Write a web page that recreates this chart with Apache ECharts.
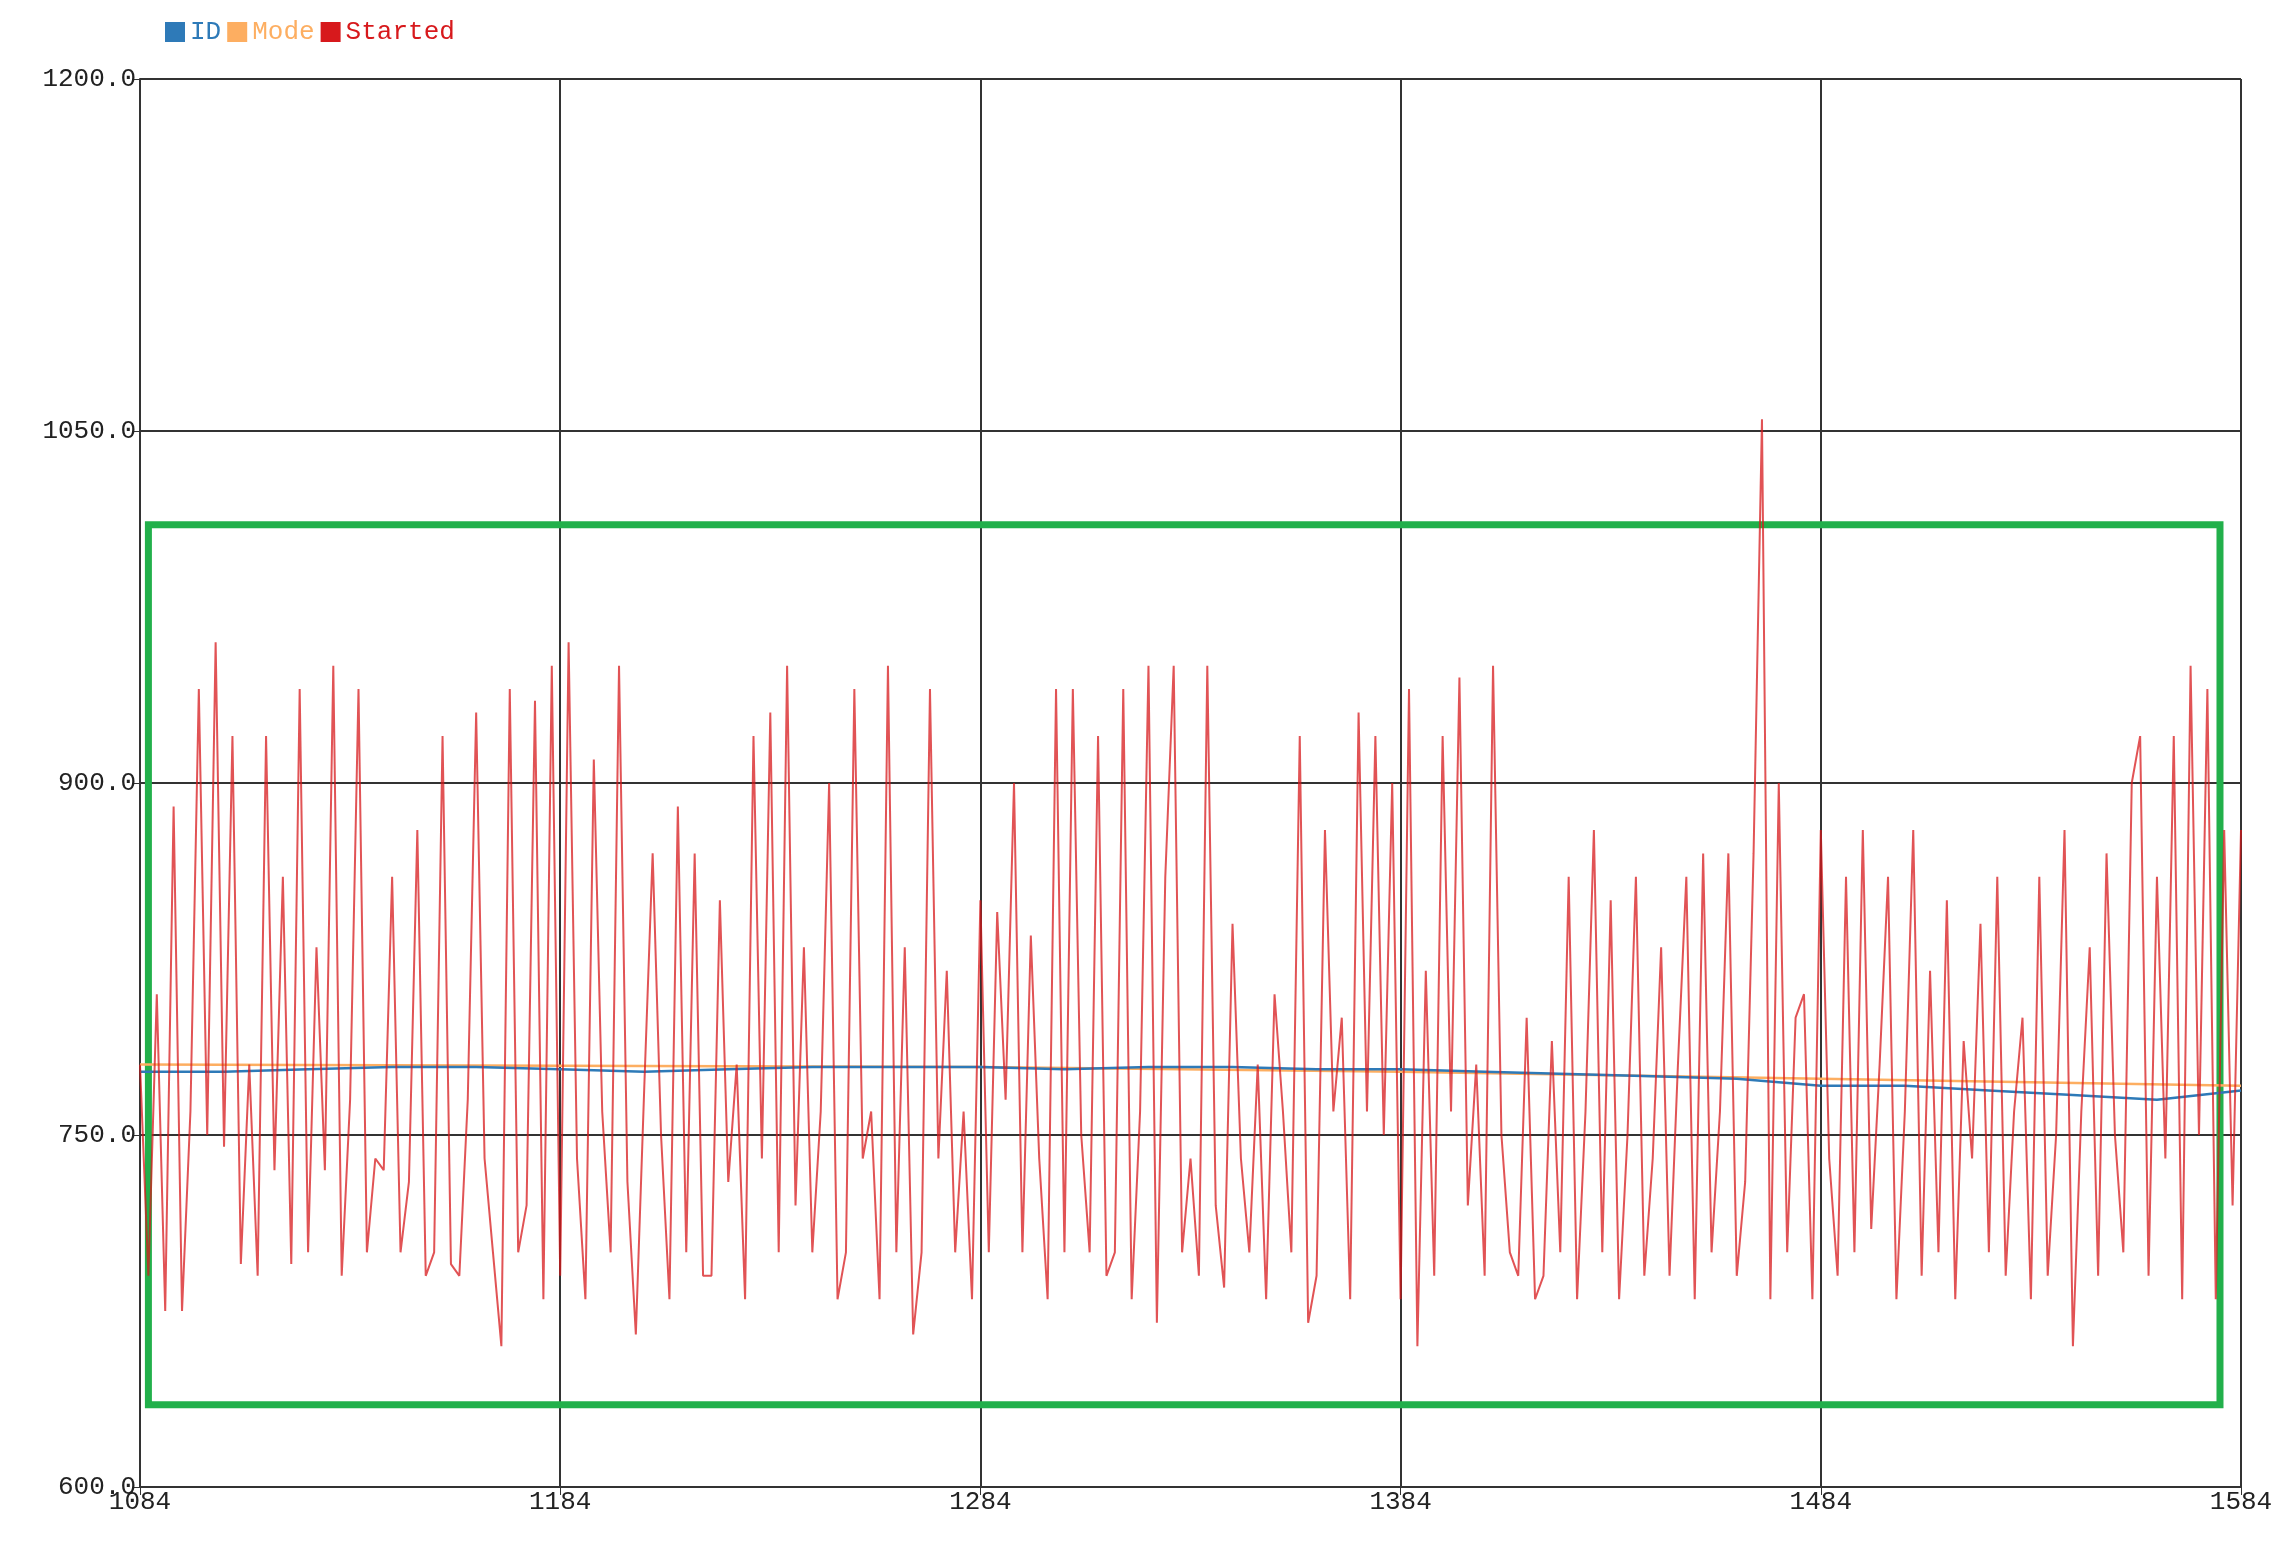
<!DOCTYPE html>
<html><head><meta charset="utf-8">
<script src="https://cdn.jsdelivr.net/npm/echarts@6/dist/echarts.min.js"></script>
<style>html,body{margin:0;padding:0;background:#fff}#c{width:2288px;height:1546px}</style>
</head><body><div id="c"></div>
<script>
const xStart = 1084, startedStep = 2;
const started = [
780,690,810,675,890,675,760,940,750,960,745,920,695,780,690,920,735,860,695,940,700,830,735,950,690,765,940,700,740,735,860,700,730,880,690,700,920,695,690,765,930,740,700,660,940,700,720,935,680,950,
690,960,740,680,910,760,700,950,730,665,770,870,750,680,890,700,870,690,690,850,730,780,680,920,740,930,700,950,720,830,700,760,900,680,700,940,740,760,680,950,700,830,665,700,940,740,820,700,760,680,
850,700,845,765,900,700,835,740,680,940,700,940,750,700,920,690,700,940,680,760,950,670,860,950,700,740,690,950,720,685,840,740,700,780,680,810,760,700,920,670,690,880,760,800,680,930,760,920,750,900,
680,940,660,820,690,920,760,945,720,780,690,950,750,700,690,800,680,690,790,700,860,680,760,880,700,850,680,750,860,690,740,830,690,780,860,680,870,700,760,870,690,730,870,1055,680,900,700,800,810,680,
880,740,690,860,700,880,710,780,860,680,760,880,690,820,700,850,680,790,740,840,700,860,690,760,800,680,860,690,750,880,660,760,830,690,870,750,700,900,920,690,860,740,920,680,950,750,940,680,880,720,880
];
const idStep = 20;
const idVals = [777,777,778,779,779,778,777,778,779,779,779,778,779,779,778,778,777,776,775,774,771,771,769,767,765,769];
const modeX = [1084,1284,1384,1484,1584];
const modeVals = [780,779,777,774,771];
const font = 'Liberation Mono';

const startedData = started.map((v,i)=>[xStart+i*startedStep, v]);
const idData = idVals.map((v,i)=>[xStart+i*idStep, v]);
const modeData = modeVals.map((v,i)=>[modeX[i], v]);

const chart = echarts.init(document.getElementById('c'));
chart.setOption({
  animation:false,
  textStyle:{fontFamily:font},
  legend:{left:160, top:14, itemWidth:20, itemHeight:20, itemGap:6, icon:'rect',
    textStyle:{fontFamily:font, fontSize:26},
    data:[{name:'ID',textStyle:{color:'#2e7ab8'}},{name:'Mode',textStyle:{color:'#fdae61'}},{name:'Started',textStyle:{color:'#d7191c'}}]},
  grid:{left:140, right:47, top:79, bottom:59},
  xAxis:{type:'value', min:1084, max:1584, interval:100,
    axisLine:{lineStyle:{color:'#333',width:2}}, axisTick:{show:true,length:8,lineStyle:{color:'#333'}},
    axisLabel:{color:'#222',fontSize:26,fontFamily:font,margin:2,formatter:v=>String(v)},
    splitLine:{show:true,lineStyle:{color:'#333',width:2}}},
  yAxis:{type:'value', min:600, max:1200, interval:150,
    axisLine:{show:true,lineStyle:{color:'#333',width:2}}, axisTick:{show:true,length:8,lineStyle:{color:'#333'}},
    axisLabel:{color:'#222',fontSize:26,fontFamily:font,formatter:v=>v.toFixed(1),margin:4},
    splitLine:{show:true,lineStyle:{color:'#333',width:2}}},
  series:[
    {name:'ID',type:'line',data:idData,showSymbol:false,lineStyle:{color:'#2e7ab8',width:2.5},itemStyle:{color:'#2e7ab8'},z:3},
    {name:'Mode',type:'line',data:modeData,showSymbol:false,lineStyle:{color:'#fdae61',width:2.5},itemStyle:{color:'#fdae61'},z:2},
    {name:'Started',type:'line',data:startedData,showSymbol:false,lineStyle:{color:'#d7191c',width:2,opacity:0.75},itemStyle:{color:'#d7191c'},z:4,
      markArea:{silent:true,itemStyle:{color:'rgba(0,0,0,0)',borderColor:'#22b04b',borderWidth:7},
        data:[[{coord:[1086,1010]},{coord:[1579,635]}]]}}
  ]
});
</script></body></html>
